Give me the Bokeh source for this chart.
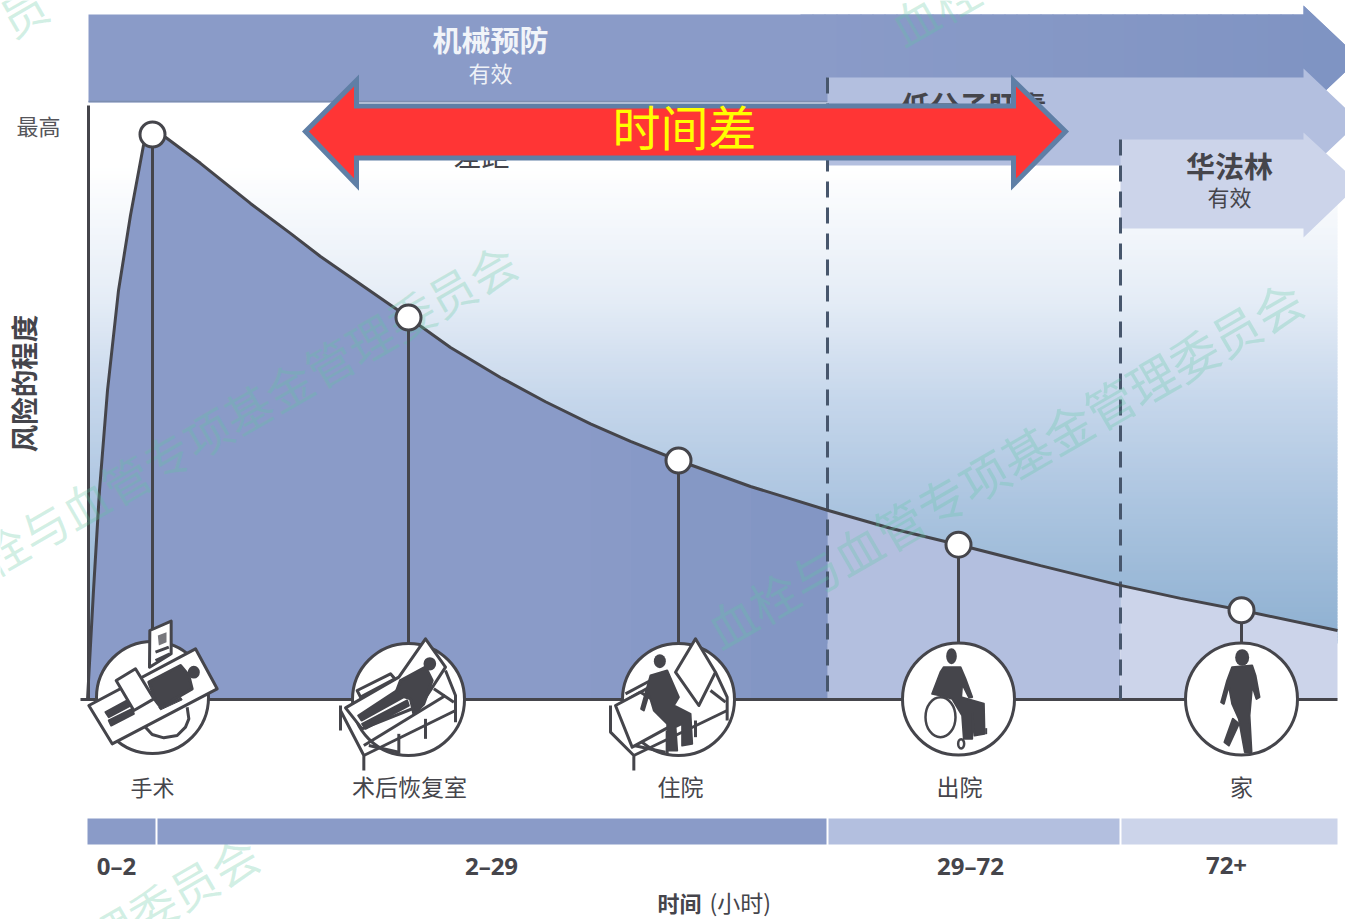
from math import pi, sin, cos

from bokeh.core.properties import value
from bokeh.embed import file_html
from bokeh.models import Range1d
from bokeh.plotting import figure
from bokeh.resources import INLINE

# Risk curve: position along the care timeline and relative risk (peak = 100)
curve_pos = [87, 93, 99, 107, 118, 130, 143, 152, 165, 200, 250, 290, 320, 360, 408, 450, 500, 545, 590, 630,
             678, 750, 827, 890, 958, 1040, 1120, 1180, 1241, 1337]
curve_risk = [0, 19.3, 37.0, 54.7, 72.4, 85.7, 98.1, 100, 99.5, 94.9, 87.8, 82.5, 78.4, 73.5, 67.6, 62.3, 57.0, 52.7,
              48.8, 45.7, 42.3, 37.7, 33.5, 30.3, 27.4, 23.7, 20.2, 17.9, 15.8, 12.2]

# Care stages and the risk at which each one is marked
stage_names = ["手术", "术后恢复室", "住院", "出院", "家"]
stage_pos = [152, 408, 678, 958, 1241]
stage_risk = [100, 67.6, 42.3, 27.4, 15.8]

# Timeline phases
phase_labels = ["0–2", "2–29", "29–72", "72+"]
phase_edges = [87, 156, 827, 1120, 1337]
phase_changes = [827, 1120]

DARK = "#45454b"
BLUE_1 = "#8a9bc8"
BLUE_1_DEEP = "#8396c4"
BLUE_2 = "#b3bfdf"
BLUE_3 = "#ccd4ea"
CJK = value("Noto Sans CJK SC")
LATIN = value("Noto Sans")

BASE_Y, PEAK_Y = 699, 134
PX_PER_RISK = (BASE_Y - PEAK_Y) / 100

p = figure(width=1345, height=919, output_backend="svg", toolbar_location=None,
           x_range=Range1d(0, 1345), y_range=Range1d(919, 0),
           min_border=0, outline_line_color=None, background_fill_color="#ffffff")
p.extra_y_ranges["risk"] = Range1d((BASE_Y - 919) / PX_PER_RISK, BASE_Y / PX_PER_RISK)
p.xaxis.visible = False
p.yaxis.visible = False
p.grid.visible = False


def label(x, y, text, size, color=DARK, bold=False, align="center", angle=0, alpha=1.0, font=CJK):
    # CJK glyphs sit low in their line box, so lift them along the text's own normal
    lift = 0.13 * size if font is CJK else 0
    p.text([x - lift * sin(angle)], [y - lift * cos(angle)], text=[text], text_font=font,
           text_font_size=f"{size}px", text_color=color, text_font_style="bold" if bold else "normal",
           text_align=align, text_baseline="middle", angle=angle, text_alpha=alpha)


def rgb(h):
    return tuple(int(h[i:i + 2], 16) for i in (1, 3, 5))


def mix(stops, y):
    for (y0, c0), (y1, c1) in zip(stops, stops[1:]):
        if y <= y1:
            t = (y - y0) / (y1 - y0)
            return "#%02x%02x%02x" % tuple(round(a + (b - a) * t) for a, b in zip(c0, c1))
    return "#%02x%02x%02x" % stops[-1][1]


# Sky behind the curve, fading from white into steel blue
sky = [(105, (255, 255, 255)), (165, (255, 255, 255)), (300, (228, 236, 246)), (400, (197, 214, 235)),
       (500, (172, 197, 224)), (640, (142, 176, 209))]
ys = list(range(105, 640, 3))
p.quad(left=88, right=1337, top=ys, bottom=[y + 4 for y in ys], fill_color=[mix(sky, y) for y in ys], line_color=None)

# Areas under the risk curve, one tint for each period
for lo, hi, tint in [(87, 827, BLUE_1), (827, 1120, BLUE_2), (1120, 1337, BLUE_3)]:
    xs = [x for x in curve_pos if lo <= x <= hi]
    rs = [r for x, r in zip(curve_pos, curve_risk) if lo <= x <= hi]
    p.varea(x=xs, y1=[0] * len(xs), y2=rs, fill_color=tint, y_range_name="risk")

# The first tint deepens slightly on its way to the end of the period
deepen = [(590, rgb(BLUE_1)), (827, rgb(BLUE_1_DEEP))]
for i, x in enumerate(curve_pos):
    if 590 <= x < 827:
        x1, r0, r1 = curve_pos[i + 1], curve_risk[i], curve_risk[i + 1]
        p.varea(x=[x, x1], y1=[0, 0], y2=[r0, r1], fill_color=mix(deepen, x1), y_range_name="risk")


def arrow(left, top, bottom, head_top, head_bottom, tip, color):
    neck = 1303
    p.patch([left, neck, neck, tip, neck, neck, left], [top, top, head_top, (top + bottom) / 2, head_bottom, bottom, bottom],
            fill_color=color, line_color=None)


# Prophylaxis arrows across the top, from longest to shortest
arrow(88, 14, 102, 5, 111, 1359, BLUE_1)
p.segment(x0=88, x1=827, y0=101, y1=101, line_color="#7d8eb0", line_width=1.5)
shade = [(800, rgb(BLUE_1)), (1303, (128, 148, 195))]
bands = list(range(800, 1303, 12))
p.quad(left=bands, right=[b + 13 for b in bands], top=14, bottom=90, fill_color=[mix(shade, b) for b in bands],
       line_color=None)
p.patch([1303, 1303, 1359], [5, 111, 58], fill_color="#7f94c3", line_color=None)
arrow(827, 77, 165, 68, 174, 1359, BLUE_2)
arrow(1120, 139, 228, 132, 237, 1359, BLUE_3)

label(490, 42, "机械预防", 29, color="#f1f4f9", bold=True)
label(490, 74, "有效", 22, color="#eef1f7")
label(973, 108, "低分子肝素", 29, bold=True)
label(481, 158, "差距", 28)
label(1229, 168, "华法林", 29, bold=True)
label(1229, 198, "有效", 22)

# Axes and period boundaries
p.segment(x0=88, x1=88, y0=105, y1=699, line_color=DARK, line_width=3)
p.segment(x0=80, x1=1337, y0=699, y1=699, line_color=DARK, line_width=3)
for edge, start in zip(phase_changes, [77, 139]):
    p.segment(x0=edge, x1=edge, y0=start, y1=699, line_color="#47566c", line_width=3, line_dash="16 10")

p.line(curve_pos, curve_risk, line_color=DARK, line_width=3, y_range_name="risk")

# Faint diagonal watermark
WM_ANGLE = 30 * pi / 180
for x, y, text, size in [(250, 413, "栓与血管专项基金管理委员会", 47), (1007, 468, "血栓与血管专项基金管理委员会", 48.5),
                         (175, 900, "理委员会", 47), (937, 12, "血栓", 47), (25, 15, "员", 47)]:
    label(x, y, text, size, color="#5fc8a0", angle=WM_ANGLE, alpha=0.28)

# Stems from the curve down to each stage icon
p.segment(x0=stage_pos, x1=stage_pos, y0=[(BASE_Y - PX_PER_RISK * r) for r in stage_risk], y1=[650] * 5,
          line_color=DARK, line_width=3)
p.scatter(stage_pos, stage_risk, size=25, marker="circle", fill_color="#ffffff", line_color=DARK, line_width=3,
          y_range_name="risk")


def at(ox, oy, pts):
    return [ox + x / 3 for x, _ in pts], [oy + y / 3 for _, y in pts]


def fill(ox, oy, pts, color=DARK, line=DARK, width=3):
    xs, ys = at(ox, oy, pts)
    p.patch(xs, ys, fill_color=color, line_color=line, line_width=width, line_join="round")


def stroke(ox, oy, pts, width=3):
    xs, ys = at(ox, oy, pts)
    p.line(xs, ys, line_color=DARK, line_width=width)


def blob(ox, oy, cx, cy, rx, ry, color=DARK, line=None, width=3):
    p.ellipse([ox + cx / 3], [oy + cy / 3], width=2 * rx / 3, height=2 * ry / 3, fill_color=color,
              line_color=line, line_width=width)


# Stage badges
for cx, cy in zip(stage_pos, [697, 699, 699, 698.5, 698.5]):
    p.ellipse([cx], [cy], width=112, height=112, fill_color="#ffffff", line_color=DARK, line_width=3)

# Operating table
ox, oy = 80, 610
stroke(ox, oy, [(190, 345), (215, 372), (250, 382), (290, 375), (315, 350), (325, 325), (320, 290)], 3)
fill(ox, oy, [(207, 170), (208, 60), (272, 32), (272, 130)], "#ffffff")
fill(ox, oy, [(232, 75), (258, 65), (258, 95), (235, 105)], "#77777c", None)
stroke(ox, oy, [(225, 125), (265, 110)], 3)
stroke(ox, oy, [(225, 150), (268, 130)], 3)
fill(ox, oy, [(25, 285), (345, 115), (410, 235), (95, 400)], "#ffffff")
fill(ox, oy, [(205, 215), (300, 165), (325, 195), (335, 235), (240, 290), (225, 270)])
blob(ox, oy, 340, 185, 18, 19)
fill(ox, oy, [(75, 305), (140, 270), (150, 285), (85, 320)], width=2)
fill(ox, oy, [(85, 330), (155, 295), (160, 310), (92, 345)], width=2)
fill(ox, oy, [(235, 290), (300, 260), (305, 268), (240, 298)], width=1)
fill(ox, oy, [(107, 210), (165, 175), (220, 265), (160, 300)], "#ffffff")

# Recovery bed, patient lying back
ox, oy = 335, 630
for seg in [[(15, 225), (15, 300)], [(15, 240), (85, 375), (85, 420)], [(85, 375), (360, 240)], [(85, 345), (330, 195)],
            [(190, 310), (190, 370)], [(270, 265), (270, 325)], [(330, 120), (360, 195), (360, 275)],
            [(100, 345), (190, 365)], [(295, 175), (355, 215)]]:
    stroke(ox, oy, seg, 3)
fill(ox, oy, [(30, 232), (190, 140), (270, 25), (330, 110), (255, 225), (80, 295)], "#ffffff")
fill(ox, oy, [(65, 180), (165, 130), (178, 145), (75, 200)], "#ffffff")
fill(ox, oy, [(195, 150), (270, 110), (290, 150), (265, 220), (235, 250), (225, 205), (180, 190)])
blob(ox, oy, 283, 100, 19, 20)
fill(ox, oy, [(68, 255), (190, 175), (205, 200), (78, 270)], width=2)
fill(ox, oy, [(80, 280), (215, 210), (220, 225), (90, 295)], width=2)

# Ward bed, patient sitting up
ox, oy = 600, 630
for seg in [[(30, 225), (30, 305), (100, 375), (100, 420)], [(100, 375), (380, 240)], [(345, 125), (380, 200), (380, 270)],
            [(285, 270), (285, 320)], [(75, 190), (150, 150)], [(85, 205), (155, 165)], [(100, 345), (195, 365)],
            [(330, 180), (375, 215)]]:
    stroke(ox, oy, seg, 3)
fill(ox, oy, [(45, 225), (120, 185), (250, 265), (95, 350)], "#ffffff")
fill(ox, oy, [(285, 25), (345, 125), (295, 225), (225, 125)], "#ffffff")
stroke(ox, oy, [(200, 300), (200, 370)], 3)
fill(ox, oy, [(150, 135), (200, 120), (235, 200), (220, 225), (270, 250), (275, 340), (245, 345), (245, 280), (225, 290),
              (230, 360), (205, 360), (200, 280), (160, 240), (145, 190), (130, 240), (122, 235)], width=2)
blob(ox, oy, 178, 92, 18, 21)

# Wheelchair
ox, oy = 890, 635
blob(ox, oy, 150, 245, 45, 60, "#ffffff", DARK, 2.5)
fill(ox, oy, [(160, 95), (210, 95), (225, 130), (245, 185), (235, 185), (215, 145), (212, 185), (280, 205), (282, 295),
              (252, 300), (245, 230), (245, 310), (220, 310), (215, 240), (185, 190), (150, 180), (125, 175), (150, 110)], width=2)
blob(ox, oy, 183, 62, 16, 24)
blob(ox, oy, 212, 325, 9, 14, "#ffffff", DARK, 2.5)
stroke(ox, oy, [(287, 278), (287, 296)], 2)

# Walking figure
ox, oy = 1175, 635
fill(ox, oy, [(170, 95), (230, 90), (240, 120), (252, 185), (243, 190), (230, 150), (222, 240), (228, 350), (208, 350),
              (190, 250), (170, 205), (160, 150), (145, 205), (137, 200), (155, 135)], width=2)
fill(ox, oy, [(172, 250), (190, 265), (160, 330), (147, 320)], width=2)
blob(ox, oy, 200, 66, 21, 25)

# Stage names under the badges
label(152, 788, stage_names[0], 22)
label(409, 788, stage_names[1], 23)
label(680, 788, stage_names[2], 23)
label(959, 788, stage_names[3], 23)
label(1241, 788, stage_names[4], 23)

# Timeline strip and its phase labels
p.quad(left=phase_edges[:-1], right=phase_edges[1:], top=818, bottom=844,
       fill_color=[BLUE_1, BLUE_1, BLUE_2, BLUE_3], line_color=None)
p.segment(x0=phase_edges[1:-1], x1=phase_edges[1:-1], y0=816, y1=846, line_color="#ffffff", line_width=2)
for x, text in zip([116, 491, 970, 1226], phase_labels):
    label(x, 865, text, 24, bold=True, font=LATIN)
label(657, 904, "时间", 22, bold=True, align="left")
label(709, 904, "(小时)", 23, align="left")

# Risk axis captions
label(38, 127, "最高", 22, color="#55555a")
label(26, 383, "风险的程度", 27.5, bold=True, angle=pi / 2)

# Double arrow marking the time gap
p.patch([305, 356, 356, 1013, 1013, 1065, 1013, 1013, 356, 356],
        [131, 80, 105.5, 105.5, 80, 131, 184, 157.5, 157.5, 184],
        fill_color="#ff3535", line_color="#5f7fa6", line_width=5, line_join="miter")
label(684, 131, "时间差", 48, color="#ffff00")

open("out.html", "w").write(file_html(p, INLINE))
